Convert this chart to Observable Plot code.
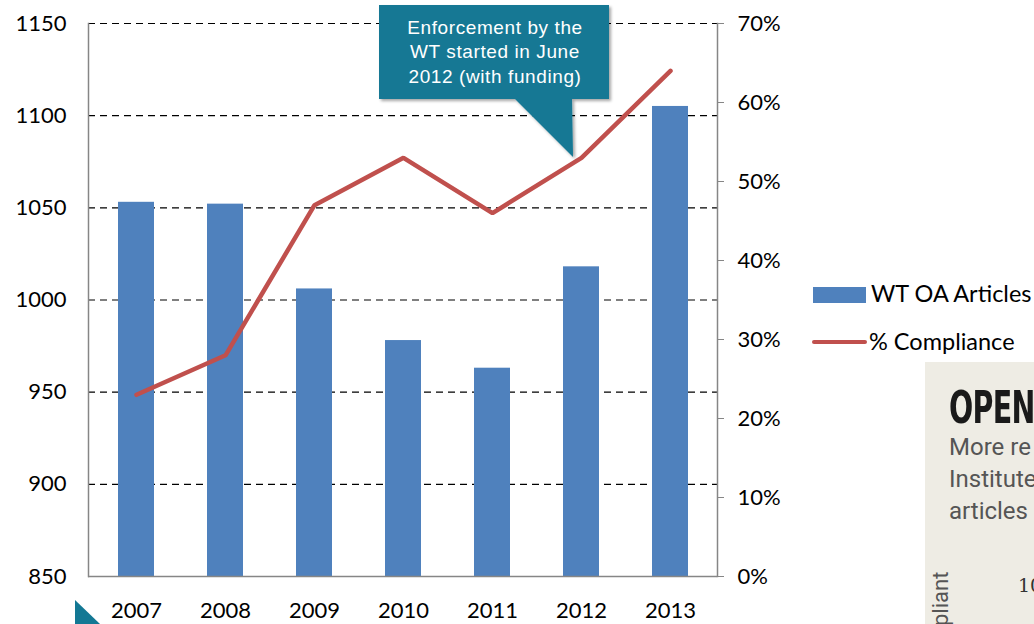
<!DOCTYPE html>
<html><head><meta charset="utf-8">
<script src="https://cdn.jsdelivr.net/npm/d3@7"></script>
<script src="https://cdn.jsdelivr.net/npm/@observablehq/plot@0.6"></script>
<style>
body{margin:0;background:#fff;}
#wrap{position:relative;width:1034px;height:624px;overflow:hidden;font-family:Lato,"Liberation Sans",sans-serif;}
#chart{position:absolute;left:0;top:0;}
.leg{position:absolute;font-size:23.5px;color:#000;white-space:nowrap;}
#inset{position:absolute;left:925px;top:362px;width:120px;height:270px;background:#EEECE4;overflow:hidden;}
</style></head>
<body>
<div id="wrap">
<div id="chart"></div>
<svg id="callout" width="1034" height="624" style="position:absolute;left:0;top:0;pointer-events:none">
  <defs><filter id="sh" x="-10%" y="-10%" width="130%" height="130%"><feDropShadow dx="2" dy="2" stdDeviation="1.5" flood-color="#000" flood-opacity="0.35"/></filter></defs>
  <polygon points="379,5 609,5 609,99 572,99 573,157 515,99 379,99" fill="#137894" filter="url(#sh)"/>
  <g fill="#fff" font-family="Liberation Sans, Arial, sans-serif" font-size="19" text-anchor="middle" letter-spacing="0.6">
  <text x="495" y="34">Enforcement by the</text>
  <text x="495" y="58">WT started in June</text>
  <text x="495" y="83">2012 (with funding)</text>
  </g>
  <polygon points="75,600 100,624 75,624" fill="#137894"/>
</svg>
<div class="leg" style="left:813px;top:287px;width:53px;height:16px;background:#4F81BD"></div>
<div class="leg" style="left:871px;top:279px;">WT OA Articles</div>
<div class="leg" style="left:812px;top:340px;width:55px;height:4px;background:#C0504D;border-radius:2px"></div>
<div class="leg" style="left:869px;top:327px;">% Compliance</div>
<div id="inset">
  <div style="position:absolute;left:24px;top:22px;font-family:'DejaVu Sans Condensed','DejaVu Sans',sans-serif;font-weight:bold;font-size:44px;line-height:48px;color:#1a1a1a;letter-spacing:-1px;white-space:nowrap;transform:scaleX(0.72);transform-origin:0 0">OPEN</div>
  <div style="position:absolute;left:24px;top:69px;font-family:Roboto,sans-serif;font-size:24px;color:#555;line-height:32px;white-space:nowrap">More re<br>Institute<br>articles</div>
  <div style="position:absolute;left:93px;top:212px;font-family:'DejaVu Serif',serif;font-size:19px;color:#333;white-space:nowrap">10</div>
  <div style="position:absolute;left:3px;top:264px;font-family:Roboto,sans-serif;font-size:22px;color:#555;transform:rotate(-90deg);transform-origin:0 0;white-space:nowrap">pliant</div>
</div>
</div>
<script>
const years = ["2007","2008","2009","2010","2011","2012","2013"];
const articles = [1053, 1052, 1006, 978, 963, 1018, 1105];
const compliance = [23, 28, 47, 53, 46, 53, 64];
const leftTicks = [850, 900, 950, 1000, 1050, 1100, 1150];
const rightTicks = [0, 10, 20, 30, 40, 50, 60, 70];

const yMin = leftTicks[0], yMax = leftTicks[leftTicks.length - 1];
const pctMax = rightTicks[rightTicks.length - 1];
const toY = p => yMin + p / pctMax * (yMax - yMin);
const fromY = y => Math.round((y - yMin) / (yMax - yMin) * pctMax);

const data = years.map((yr, i) => ({year: yr, articles: articles[i], pct: compliance[i], py: toY(compliance[i])}));

const plot = Plot.plot({
  width: 800, height: 624,
  marginLeft: 88, marginRight: 83, marginTop: 23, marginBottom: 48,
  style: {fontFamily: "Lato, 'Liberation Sans', sans-serif", fontSize: "22px", color: "#000", background: "transparent", overflow: "visible"},
  x: {domain: years, paddingInner: 0.6, paddingOuter: 0.3, label: null},
  y: {domain: [yMin, yMax], label: null},
  marks: [
    Plot.gridY(leftTicks.slice(1), {stroke: "#000", strokeOpacity: 1, strokeWidth: 1.2, strokeDasharray: "7,5"}),
    Plot.barY(data, {x: "year", y1: () => yMin, y2: "articles", fill: "#4F81BD"}),
    Plot.frame({anchor: "left", stroke: "#868686", strokeWidth: 1.5}),
    Plot.frame({anchor: "right", stroke: "#868686", strokeWidth: 1.5}),
    Plot.ruleY([yMin], {stroke: "#868686", strokeWidth: 1.5}),
    Plot.axisY(leftTicks, {anchor: "left", tickSize: 0, tickPadding: 22, tickFormat: d => String(d), label: null, fontSize: 22}),
    Plot.axisY(rightTicks.map(toY), {anchor: "right", tickSize: 6, tickPadding: 14, stroke: "#868686", tickFormat: d => fromY(d) + "%", label: null, fontSize: 22}),
    Plot.axisX({tickSize: 0, tickPadding: 26, label: null, fontSize: 22}),
    Plot.line(data, {x: "year", y: "py", stroke: "#C0504D", strokeWidth: 4.5, strokeLinejoin: "miter"})
  ]
});
document.getElementById("chart").appendChild(plot);
</script>
</body></html>
